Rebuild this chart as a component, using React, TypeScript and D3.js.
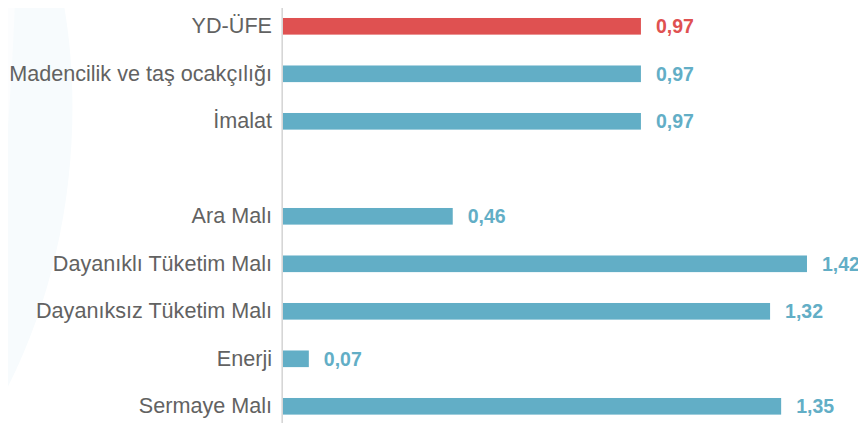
import React, { useRef, useEffect } from 'react';
import * as d3 from 'd3';

// categories top to bottom; '' is the blank spacer row
const categories: string[] = [
  'YD-ÜFE',
  'Madencilik ve taş ocakçılığı',
  'İmalat',
  '',
  'Ara Malı',
  'Dayanıklı Tüketim Malı',
  'Dayanıksız Tüketim Malı',
  'Enerji',
  'Sermaye Malı',
];
const values: (number | null)[] = [0.97, 0.97, 0.97, null, 0.46, 1.42, 1.32, 0.07, 1.35];
const highlight: string[] = ['YD-ÜFE'];

const width = 866;
const height = 431;

const Chart: React.FC = () => {
  const svgRef = useRef<SVGSVGElement | null>(null);

  useEffect(() => {
    if (!svgRef.current) return;
    const svg = d3.select(svgRef.current);
    svg.selectAll('*').remove();

    const left = 283;

    // faint watermark on the left
    svg.append('path')
      .attr('d', 'M0,0 L63,0 C80,90 82,250 0,402 Z')
      .attr('fill', '#f7fbfd');
    svg.append('path')
      .attr('d', 'M0,0 L15,0 C12,80 6,160 0,218 Z')
      .attr('fill', '#fcfdfe');

    const x = d3.scaleLinear()
      .domain([0, 1])
      .range([left, left + 369]);

    const y = d3.scaleBand<string>()
      .domain(categories.map((c, i) => c + '#' + i))
      .range([2.55, 430.05])
      .paddingInner(0.65)
      .paddingOuter(0.325);

    const rows = categories.map((c, i) => ({ key: c + '#' + i, name: c, value: values[i] }));
    const bars = rows.filter(d => d.value !== null);

    svg.append('g')
      .selectAll('rect')
      .data(bars)
      .join('rect')
      .attr('x', x(0))
      .attr('y', d => y(d.key)!)
      .attr('width', d => x(d.value as number) - x(0))
      .attr('height', y.bandwidth())
      .attr('fill', d => highlight.includes(d.name) ? '#df5151' : '#62aec6');

    // category labels
    svg.append('g')
      .selectAll('text')
      .data(rows.filter(d => d.name !== ''))
      .join('text')
      .attr('x', 272)
      .attr('y', d => y(d.key)! + y.bandwidth() / 2 + 7)
      .attr('text-anchor', 'end')
      .attr('font-family', '"Liberation Sans", Arial, sans-serif')
      .attr('font-size', 21.6)
      .attr('fill', '#626262')
      .text(d => d.name);

    // value labels
    svg.append('g')
      .selectAll('text')
      .data(bars)
      .join('text')
      .attr('x', d => x(d.value as number) + 15)
      .attr('y', d => y(d.key)! + y.bandwidth() / 2 + 7)
      .attr('font-family', '"Liberation Sans", Arial, sans-serif')
      .attr('font-size', 19.5)
      .attr('font-weight', 'bold')
      .attr('fill', d => highlight.includes(d.name) ? '#df5151' : '#62aec6')
      .text(d => d3.format('.2f')(d.value as number).replace('.', ','));

    // axis line
    svg.append('line')
      .attr('x1', 282.2)
      .attr('x2', 282.2)
      .attr('y1', 3)
      .attr('y2', height)
      .attr('stroke', '#d6d6d6')
      .attr('stroke-width', 1.6);
  }, []);

  return <svg ref={svgRef} width={width} height={height} style={{ display: 'block' }}></svg>;
};

export default function App() {
  return (
    <div style={{ margin: -8 }}>
      <Chart />
    </div>
  );
}
